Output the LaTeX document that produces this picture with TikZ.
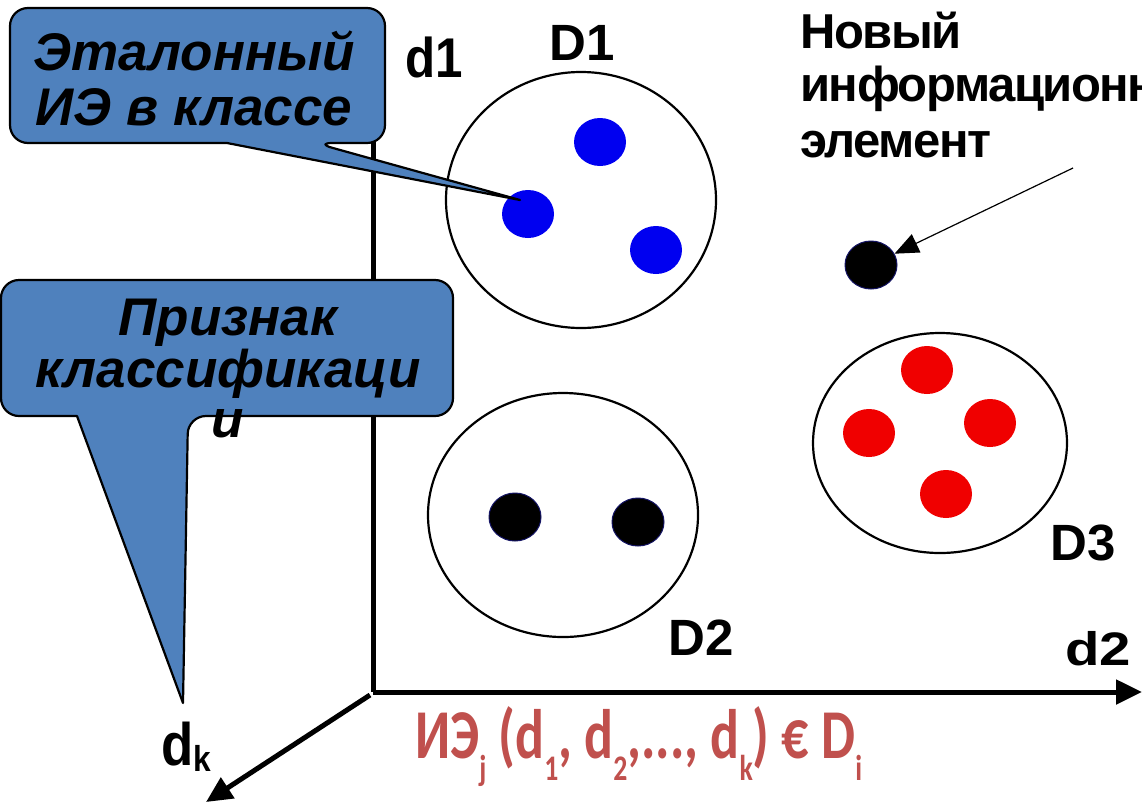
\documentclass[tikz,border=0pt]{standalone}
\usepackage{fontspec}
\setmainfont{Liberation Sans}
\newfontfamily\calib{Carlito}
\usetikzlibrary{arrows.meta,shapes.geometric}
\definecolor{cblue}{HTML}{4F81BD}
\definecolor{fred}{HTML}{C0504D}
\definecolor{dotblue}{RGB}{0,0,240}
\definecolor{dotred}{RGB}{240,0,0}
\definecolor{dotnavy}{RGB}{20,20,100}
\newcommand\fsub[1]{\raisebox{-22pt}{\fontsize{36}{36}\selectfont #1}}
\tikzset{
  axisline/.style={line width=5pt},
  bigtip/.style={-{Triangle[length=26pt,width=24pt]}},
  cls/.style={ellipse, draw, line width=2.2pt, fill=white, inner sep=0pt},
  pt/.style={ellipse, inner sep=0pt, minimum width=52pt, minimum height=48pt},
  bluept/.style={pt, fill=dotblue},
  redpt/.style={pt, fill=dotred},
  blackpt/.style={pt, fill=black, draw=dotnavy, line width=1pt},
  callout/.style={fill=cblue, draw=black, line width=2.2pt, line join=round},
  lbl/.style={anchor=base west, inner sep=0pt, font=\bfseries\fontsize{51}{51}\selectfont},
  ctext/.style={anchor=base, inner sep=0pt, font=\bfseries\itshape\fontsize{#1}{#1}\selectfont},
  newtext/.style={anchor=base west, inner sep=0pt, font=\bfseries\fontsize{49}{49}\selectfont\addfontfeature{LetterSpace=-3}},
}
\begin{document}
\begin{tikzpicture}[x=1pt,y=-1pt]
\useasboundingbox (0,0) rectangle (1142,804);
\clip (0,0) rectangle (1142,804);
\fill[white] (0,0) rectangle (1142,804);

% axes
\coordinate (O) at (373,692);
\coordinate (ytop) at (373,110);
\coordinate (xend) at (1142,692);
\coordinate (zend) at (206,802);
\draw[axisline] (O) -- (ytop);
\draw[axisline,bigtip] (O) -- (xend);
\draw[axisline,bigtip] (370,695) -- (zend);

% classes
\node[cls, minimum width=270pt, minimum height=256pt] (D1c) at (581,200) {};
\node[cls, minimum width=270pt, minimum height=244pt] (D2c) at (563,515) {};
\node[cls, minimum width=254pt, minimum height=220pt] (D3c) at (940,443) {};

% points
\node[bluept] (b1) at (600,142) {};
\node[bluept] (b2) at (528,214) {};
\node[bluept] (b3) at (656,250) {};
\node[blackpt] (k1) at (515,517) {};
\node[blackpt] (k2) at (638,522) {};
\node[redpt] (r1) at (927,370) {};
\node[redpt] (r2) at (990,423) {};
\node[redpt] (r3) at (869,433) {};
\node[redpt] (r4) at (946,494) {};
\node[blackpt] (newpt) at (871,265) {};

% labels
\node[lbl, font=\bfseries\fontsize{56}{56}\selectfont] (ld1) at (405,77) {\scalebox{0.88}[1]{d1}};
\node[lbl] (lD1) at (549,60) {D1};
\node[lbl] (lD2) at (668,655) {D2};
\node[lbl] (lD3) at (1050,560) {D3};
\node[lbl, font=\bfseries\fontsize{47}{47}\selectfont] (ld2) at (1065,665) {\scalebox{1.2}[1]{d2}};
\node[lbl, font=\bfseries\fontsize{60}{60}\selectfont] (ldk) at (161,765) {\scalebox{0.88}[1]{d\raisebox{-6pt}{\fontsize{36}{36}\selectfont k}}};

% new element
\node[newtext] (n1) at (800,48) {Новый};
\node[newtext] (n2) at (800,101) {информационный};
\node[newtext] (n3) at (800,157) {элемент};
\coordinate (nstart) at (1073,168);
\draw[line width=1.2pt, -{Triangle[length=24pt,width=20pt]}] (nstart) -- (newpt);

% callout 1
\draw[callout] (520,200) -- (227,143) [rounded corners=18pt] -- (10,143) -- (10,8) -- (385,8) -- (385,143) -- (315,143) [sharp corners] -- cycle;
\node[ctext=53] (c1a) at (194,70) {Эталонный};
\node[ctext=53] (c1b) at (194,125) {ИЭ в классе};

% callout 2
\draw[callout] (183,703) -- (77,416) [rounded corners=18pt] -- (1,416) -- (1,280) -- (453,280) -- (453,416) -- (188,416) [sharp corners] -- cycle;
\node[ctext=53] (c2a) at (228,335) {Признак};
\node[ctext=53] (c2b) at (228,387) {классификаци};
\node[ctext=53] (c2c) at (228,437) {и};

% formula
\node[anchor=base west, inner sep=0pt, text=fred, font=\calib\bfseries\fontsize{70}{74}\selectfont] (form) at (415,758)
  {\scalebox{0.77}[1]{ИЭ\fsub{j} (d\fsub{1}, d\fsub{2},..., d\fsub{k}) € D\fsub{i}}};
\end{tikzpicture}
\end{document}
